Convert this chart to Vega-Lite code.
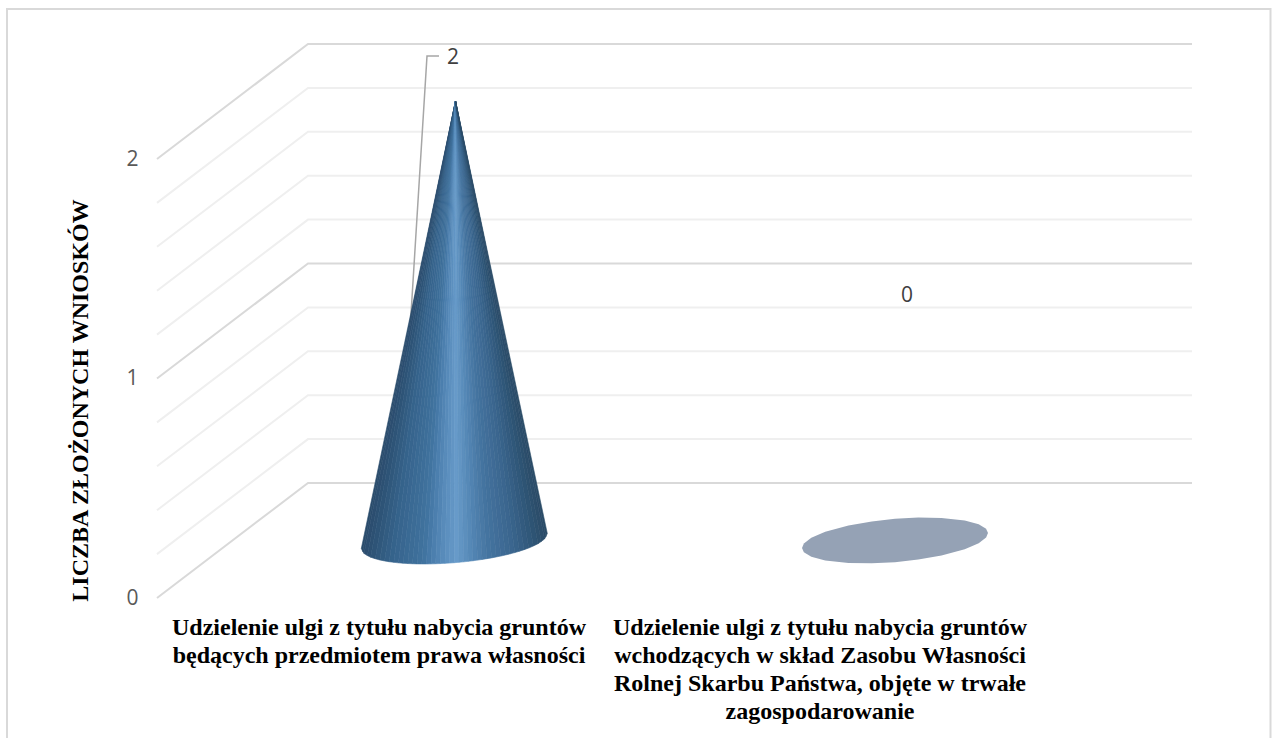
{"$schema":"https://vega.github.io/schema/vega-lite/v6.json","width":1035,"height":554,"autosize":"none","padding":{"left":157,"top":44,"right":80,"bottom":140},"background":"white","config":{"view":{"stroke":null}},
"datasets":{
"frame":[{"k":0,"x":-150,"v":-0.66},{"k":1,"x":-150,"v":2.683},{"k":2,"x":1113.5,"v":2.683},{"k":3,"x":1113.5,"v":-0.66}],
"grid":[
{"level":0.2,"kind":"minor","k":0,"x":0,"v":0.2},{"level":0.2,"kind":"minor","k":1,"x":151,"v":0.724},{"level":0.2,"kind":"minor","k":2,"x":1035,"v":0.724},
{"level":0.4,"kind":"minor","k":0,"x":0,"v":0.4},{"level":0.4,"kind":"minor","k":1,"x":151,"v":0.924},{"level":0.4,"kind":"minor","k":2,"x":1035,"v":0.924},
{"level":0.6,"kind":"minor","k":0,"x":0,"v":0.6},{"level":0.6,"kind":"minor","k":1,"x":151,"v":1.124},{"level":0.6,"kind":"minor","k":2,"x":1035,"v":1.124},
{"level":0.8,"kind":"minor","k":0,"x":0,"v":0.8},{"level":0.8,"kind":"minor","k":1,"x":151,"v":1.324},{"level":0.8,"kind":"minor","k":2,"x":1035,"v":1.324},
{"level":1.2,"kind":"minor","k":0,"x":0,"v":1.2},{"level":1.2,"kind":"minor","k":1,"x":151,"v":1.724},{"level":1.2,"kind":"minor","k":2,"x":1035,"v":1.724},
{"level":1.4,"kind":"minor","k":0,"x":0,"v":1.4},{"level":1.4,"kind":"minor","k":1,"x":151,"v":1.924},{"level":1.4,"kind":"minor","k":2,"x":1035,"v":1.924},
{"level":1.6,"kind":"minor","k":0,"x":0,"v":1.6},{"level":1.6,"kind":"minor","k":1,"x":151,"v":2.124},{"level":1.6,"kind":"minor","k":2,"x":1035,"v":2.124},
{"level":1.8,"kind":"minor","k":0,"x":0,"v":1.8},{"level":1.8,"kind":"minor","k":1,"x":151,"v":2.324},{"level":1.8,"kind":"minor","k":2,"x":1035,"v":2.324},
{"level":0,"kind":"major","k":0,"x":0,"v":0},{"level":0,"kind":"major","k":1,"x":151,"v":0.524},{"level":0,"kind":"major","k":2,"x":1035,"v":0.524},
{"level":1,"kind":"major","k":0,"x":0,"v":1},{"level":1,"kind":"major","k":1,"x":151,"v":1.524},{"level":1,"kind":"major","k":2,"x":1035,"v":1.524},
{"level":2,"kind":"major","k":0,"x":0,"v":2},{"level":2,"kind":"major","k":1,"x":151,"v":2.524},{"level":2,"kind":"major","k":2,"x":1035,"v":2.524}],
"cone":[
{"c":-0.992,"k":0,"x":298.5,"v":2.2642},{"c":-0.992,"k":1,"x":204.3,"v":0.2255},{"c":-0.992,"k":2,"x":205.7,"v":0.2125},
{"c":-0.977,"k":0,"x":298.5,"v":2.2642},{"c":-0.977,"k":1,"x":205.7,"v":0.2125},{"c":-0.977,"k":2,"x":207.1,"v":0.2026},
{"c":-0.953,"k":0,"x":298.5,"v":2.2642},{"c":-0.953,"k":1,"x":207.1,"v":0.2026},{"c":-0.953,"k":2,"x":210.35,"v":0.1935},
{"c":-0.917,"k":0,"x":298.5,"v":2.2642},{"c":-0.917,"k":1,"x":210.35,"v":0.1935},{"c":-0.917,"k":2,"x":213.6,"v":0.1858},
{"c":-0.875,"k":0,"x":298.5,"v":2.2642},{"c":-0.875,"k":1,"x":213.6,"v":0.1858},{"c":-0.875,"k":2,"x":218.25,"v":0.179},
{"c":-0.825,"k":0,"x":298.5,"v":2.2642},{"c":-0.825,"k":1,"x":218.25,"v":0.179},{"c":-0.825,"k":2,"x":222.9,"v":0.1731},
{"c":-0.775,"k":0,"x":298.5,"v":2.2642},{"c":-0.775,"k":1,"x":222.9,"v":0.1731},{"c":-0.775,"k":2,"x":227.55,"v":0.1689},
{"c":-0.725,"k":0,"x":298.5,"v":2.2642},{"c":-0.725,"k":1,"x":227.55,"v":0.1689},{"c":-0.725,"k":2,"x":232.2,"v":0.1652},
{"c":-0.675,"k":0,"x":298.5,"v":2.2642},{"c":-0.675,"k":1,"x":232.2,"v":0.1652},{"c":-0.675,"k":2,"x":236.85,"v":0.1625},
{"c":-0.625,"k":0,"x":298.5,"v":2.2642},{"c":-0.625,"k":1,"x":236.85,"v":0.1625},{"c":-0.625,"k":2,"x":241.5,"v":0.1601},
{"c":-0.575,"k":0,"x":298.5,"v":2.2642},{"c":-0.575,"k":1,"x":241.5,"v":0.1601},{"c":-0.575,"k":2,"x":246.15,"v":0.1584},
{"c":-0.525,"k":0,"x":298.5,"v":2.2642},{"c":-0.525,"k":1,"x":246.15,"v":0.1584},{"c":-0.525,"k":2,"x":250.8,"v":0.157},
{"c":-0.475,"k":0,"x":298.5,"v":2.2642},{"c":-0.475,"k":1,"x":250.8,"v":0.157},{"c":-0.475,"k":2,"x":255.45,"v":0.1561},
{"c":-0.425,"k":0,"x":298.5,"v":2.2642},{"c":-0.425,"k":1,"x":255.45,"v":0.1561},{"c":-0.425,"k":2,"x":260.1,"v":0.1554},
{"c":-0.375,"k":0,"x":298.5,"v":2.2642},{"c":-0.375,"k":1,"x":260.1,"v":0.1554},{"c":-0.375,"k":2,"x":264.75,"v":0.1552},
{"c":-0.325,"k":0,"x":298.5,"v":2.2642},{"c":-0.325,"k":1,"x":264.75,"v":0.1552},{"c":-0.325,"k":2,"x":269.4,"v":0.1551},
{"c":-0.275,"k":0,"x":298.5,"v":2.2642},{"c":-0.275,"k":1,"x":269.4,"v":0.1551},{"c":-0.275,"k":2,"x":274.05,"v":0.1555},
{"c":-0.225,"k":0,"x":298.5,"v":2.2642},{"c":-0.225,"k":1,"x":274.05,"v":0.1555},{"c":-0.225,"k":2,"x":278.7,"v":0.156},
{"c":-0.175,"k":0,"x":298.5,"v":2.2642},{"c":-0.175,"k":1,"x":278.7,"v":0.156},{"c":-0.175,"k":2,"x":283.35,"v":0.1569},
{"c":-0.125,"k":0,"x":298.5,"v":2.2642},{"c":-0.125,"k":1,"x":283.35,"v":0.1569},{"c":-0.125,"k":2,"x":288,"v":0.1579},
{"c":-0.075,"k":0,"x":298.5,"v":2.2642},{"c":-0.075,"k":1,"x":288,"v":0.1579},{"c":-0.075,"k":2,"x":292.65,"v":0.1593},
{"c":-0.025,"k":0,"x":298.5,"v":2.2642},{"c":-0.025,"k":1,"x":292.65,"v":0.1593},{"c":-0.025,"k":2,"x":297.3,"v":0.1608},
{"c":0.025,"k":0,"x":298.5,"v":2.2642},{"c":0.025,"k":1,"x":297.3,"v":0.1608},{"c":0.025,"k":2,"x":301.95,"v":0.1627},
{"c":0.075,"k":0,"x":298.5,"v":2.2642},{"c":0.075,"k":1,"x":301.95,"v":0.1627},{"c":0.075,"k":2,"x":306.6,"v":0.1647},
{"c":0.125,"k":0,"x":298.5,"v":2.2642},{"c":0.125,"k":1,"x":306.6,"v":0.1647},{"c":0.125,"k":2,"x":311.25,"v":0.1671},
{"c":0.175,"k":0,"x":298.5,"v":2.2642},{"c":0.175,"k":1,"x":311.25,"v":0.1671},{"c":0.175,"k":2,"x":315.9,"v":0.1696},
{"c":0.225,"k":0,"x":298.5,"v":2.2642},{"c":0.225,"k":1,"x":315.9,"v":0.1696},{"c":0.225,"k":2,"x":320.55,"v":0.1726},
{"c":0.275,"k":0,"x":298.5,"v":2.2642},{"c":0.275,"k":1,"x":320.55,"v":0.1726},{"c":0.275,"k":2,"x":325.2,"v":0.1757},
{"c":0.325,"k":0,"x":298.5,"v":2.2642},{"c":0.325,"k":1,"x":325.2,"v":0.1757},{"c":0.325,"k":2,"x":329.85,"v":0.1792},
{"c":0.375,"k":0,"x":298.5,"v":2.2642},{"c":0.375,"k":1,"x":329.85,"v":0.1792},{"c":0.375,"k":2,"x":334.5,"v":0.1828},
{"c":0.425,"k":0,"x":298.5,"v":2.2642},{"c":0.425,"k":1,"x":334.5,"v":0.1828},{"c":0.425,"k":2,"x":339.15,"v":0.1869},
{"c":0.475,"k":0,"x":298.5,"v":2.2642},{"c":0.475,"k":1,"x":339.15,"v":0.1869},{"c":0.475,"k":2,"x":343.8,"v":0.1912},
{"c":0.525,"k":0,"x":298.5,"v":2.2642},{"c":0.525,"k":1,"x":343.8,"v":0.1912},{"c":0.525,"k":2,"x":348.45,"v":0.196},
{"c":0.575,"k":0,"x":298.5,"v":2.2642},{"c":0.575,"k":1,"x":348.45,"v":0.196},{"c":0.575,"k":2,"x":353.1,"v":0.2011},
{"c":0.625,"k":0,"x":298.5,"v":2.2642},{"c":0.625,"k":1,"x":353.1,"v":0.2011},{"c":0.625,"k":2,"x":357.75,"v":0.2069},
{"c":0.675,"k":0,"x":298.5,"v":2.2642},{"c":0.675,"k":1,"x":357.75,"v":0.2069},{"c":0.675,"k":2,"x":362.4,"v":0.213},
{"c":0.725,"k":0,"x":298.5,"v":2.2642},{"c":0.725,"k":1,"x":362.4,"v":0.213},{"c":0.725,"k":2,"x":367.05,"v":0.22},
{"c":0.775,"k":0,"x":298.5,"v":2.2642},{"c":0.775,"k":1,"x":367.05,"v":0.22},{"c":0.775,"k":2,"x":371.7,"v":0.2277},
{"c":0.825,"k":0,"x":298.5,"v":2.2642},{"c":0.825,"k":1,"x":371.7,"v":0.2277},{"c":0.825,"k":2,"x":376.35,"v":0.237},
{"c":0.875,"k":0,"x":298.5,"v":2.2642},{"c":0.875,"k":1,"x":376.35,"v":0.237},{"c":0.875,"k":2,"x":381,"v":0.2474},
{"c":0.917,"k":0,"x":298.5,"v":2.2642},{"c":0.917,"k":1,"x":381,"v":0.2474},{"c":0.917,"k":2,"x":384.25,"v":0.2575},
{"c":0.953,"k":0,"x":298.5,"v":2.2642},{"c":0.953,"k":1,"x":384.25,"v":0.2575},{"c":0.953,"k":2,"x":387.5,"v":0.2688},
{"c":0.977,"k":0,"x":298.5,"v":2.2642},{"c":0.977,"k":1,"x":387.5,"v":0.2688},{"c":0.977,"k":2,"x":388.9,"v":0.28},
{"c":0.992,"k":0,"x":298.5,"v":2.2642},{"c":0.992,"k":1,"x":388.9,"v":0.28},{"c":0.992,"k":2,"x":390.3,"v":0.2939}],
"disc":[
{"x":645,"v":0.2278,"v2":0.2278},{"x":646.9,"v":0.2481,"v2":0.2089},{"x":654.3,"v":0.2745,"v2":0.188},{"x":668.25,"v":0.3015,"v2":0.1712},{"x":691.5,"v":0.3306,"v2":0.1593},{"x":714.75,"v":0.3491,"v2":0.1578},{"x":738,"v":0.3609,"v2":0.1631},{"x":761.25,"v":0.3662,"v2":0.1749},{"x":784.5,"v":0.3647,"v2":0.1934},{"x":807.75,"v":0.3528,"v2":0.2225},{"x":821.7,"v":0.336,"v2":0.2495},{"x":829.1,"v":0.3151,"v2":0.2759},{"x":831,"v":0.2962,"v2":0.2962}],
"leader":[{"k":0,"x":282,"v":2.469},{"k":1,"x":270,"v":2.469},{"k":2,"x":253.5,"v":1.257}],
"values":[{"x":296,"v":2.46,"label":"2"},{"x":750,"v":1.376,"label":"0"}],
"cats":[{"x":222,"v":-0.0825,"label":"Udzielenie ulgi z tytułu nabycia gruntów\nbędących przedmiotem prawa własności"},{"x":663,"v":-0.0825,"label":"Udzielenie ulgi z tytułu nabycia gruntów\nwchodzących w skład Zasobu Własności\nRolnej Skarbu Państwa, objęte w trwałe\nzagospodarowanie"}]
},
"encoding":{
"x":{"field":"x","type":"quantitative","scale":{"domain":[0,1035],"nice":false,"zero":false},"axis":null},
"y":{"field":"v","type":"quantitative","scale":{"domain":[0,2.524],"nice":false,"zero":false},"axis":{"values":[0,1,2],"format":"d","grid":false,"domain":false,"ticks":false,"labelPadding":19,"labelFont":"Open Sans","labelFontSize":21,"labelColor":"#595959","title":"LICZBA ZŁOŻONYCH WNIOSKÓW","titleFont":"Liberation Serif","titleFontWeight":"bold","titleFontSize":24,"titleColor":"#000000","titleX":-77,"titleY":356,"titleAngle":-90,"titleBaseline":"middle"}}
},
"layer":[
{"data":{"name":"frame"},"mark":{"type":"line","stroke":"#d9d9d9","strokeWidth":2,"clip":false},"encoding":{"order":{"field":"k"}}},
{"data":{"name":"grid"},"transform":[{"filter":"datum.kind=='minor'"}],"mark":{"type":"line","stroke":"#efefef","strokeWidth":2},"encoding":{"detail":{"field":"level"},"order":{"field":"k"}}},
{"data":{"name":"grid"},"transform":[{"filter":"datum.kind=='major'"}],"mark":{"type":"line","stroke":"#d9d9d9","strokeWidth":2},"encoding":{"detail":{"field":"level"},"order":{"field":"k"}}},
{"data":{"name":"leader"},"mark":{"type":"line","stroke":"#a6a6a6","strokeWidth":1.5},"encoding":{"order":{"field":"k"}}},
{"data":{"name":"cone"},"mark":{"type":"line","strokeWidth":0.6,"interpolate":"linear-closed"},"encoding":{"detail":{"field":"c"},"order":{"field":"k"},
"fill":{"field":"c","type":"quantitative","legend":null,"scale":{"domain":[-1,-0.69,-0.33,-0.15,0.03,0.2,0.38,0.63,0.85,1],"range":["#2a4b6b","#35628a","#40739f","#5588b8","#689bc9","#5386b4","#44739f","#3b668f","#2f5677","#2a4a66"]}},
"stroke":{"field":"c","type":"quantitative","legend":null,"scale":{"domain":[-1,-0.69,-0.33,-0.15,0.03,0.2,0.38,0.63,0.85,1],"range":["#2a4b6b","#35628a","#40739f","#5588b8","#689bc9","#5386b4","#44739f","#3b668f","#2f5677","#2a4a66"]}}}},
{"data":{"name":"disc"},"mark":{"type":"area","fill":"#95a2b5"},"encoding":{"y2":{"field":"v2"}}},
{"data":{"name":"values"},"mark":{"type":"text","font":"Open Sans","fontSize":21,"fill":"#404040"},"encoding":{"text":{"field":"label"}}},
{"data":{"name":"cats"},"mark":{"type":"text","font":"Liberation Serif","fontWeight":"bold","fontSize":24,"fill":"#000000","lineBreak":"\n","lineHeight":28,"baseline":"top","align":"center"},"encoding":{"text":{"field":"label"}}}
]}
